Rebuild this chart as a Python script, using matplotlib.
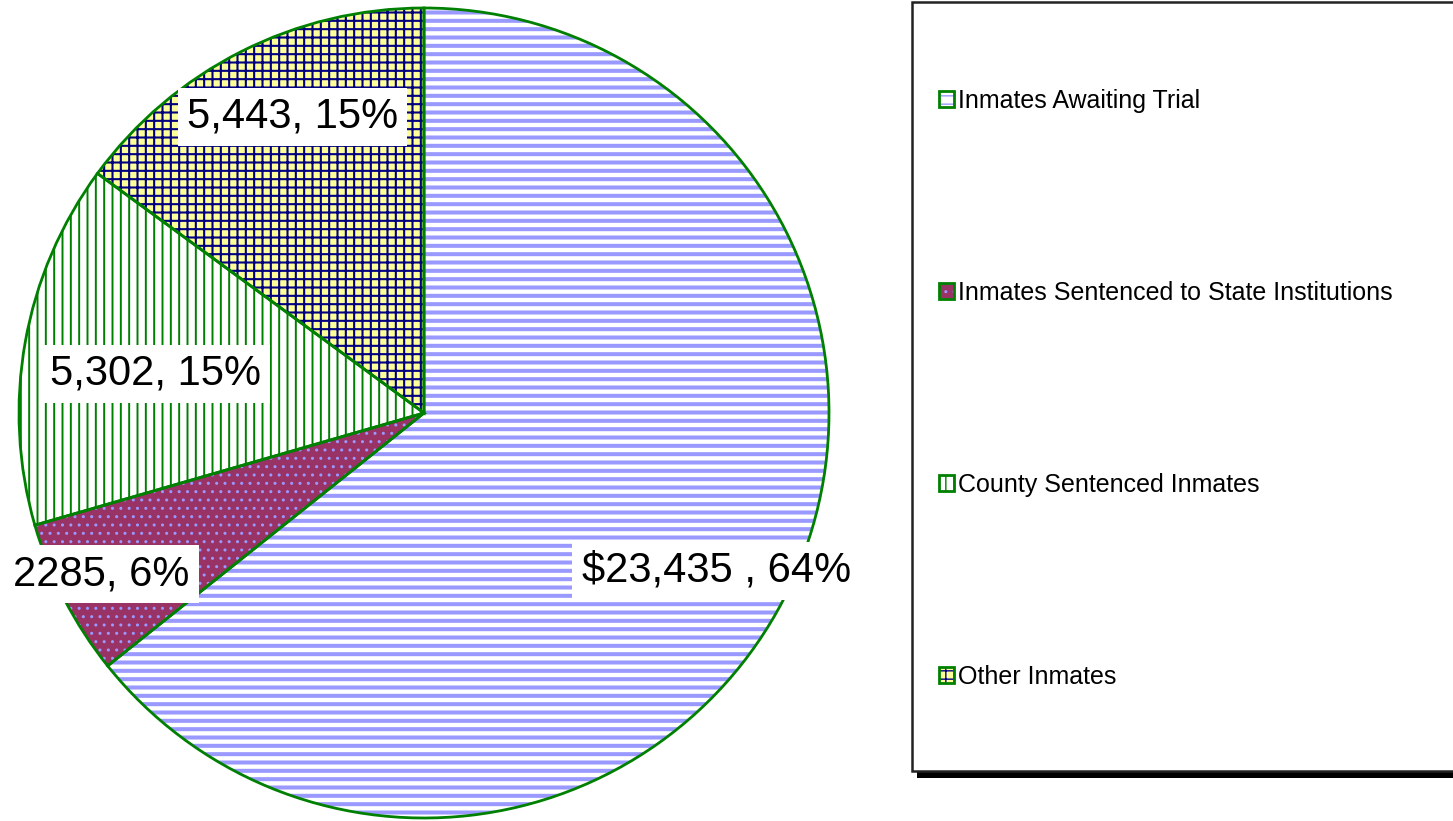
import matplotlib
matplotlib.use("Agg")
import matplotlib.pyplot as plt
from matplotlib.patches import Rectangle
from matplotlib.legend_handler import HandlerTuple
import numpy as np

plt.rcParams['font.family'] = ['Liberation Sans', 'DejaVu Sans']

categories = ["Inmates Awaiting Trial", "Inmates Sentenced to State Institutions",
              "County Sentenced Inmates", "Other Inmates"]
values = [23435, 2285, 5302, 5443]
data_labels = ["$23,435 , 64%", "2285, 6%", "5,302, 15%", "5,443, 15%"]

face_colors = ["#FFFFFF", "#993366", "#FFFFFF", "#FFFF99"]
hatch_colors = ["#9999FF", "#9999FF", "#008000", "#000080"]
hatches = ["--", "..", "||", "++"]
hatch_lws = [2.9, 1.0, 1.4, 1.5]
label_dist = [0.82, 0.89, 0.67, 0.80]
label_dang = [-2.7, -0.8, 1.8, -2.9]

W, H = 1453, 821
fig = plt.figure(figsize=(W / 100, H / 100), dpi=100)
cx, cy, r = 424, 413, 405
ax = fig.add_axes([(cx - r) / W, (H - cy - r) / H, 2 * r / W, 2 * r / H])

w1, _ = ax.pie(values, startangle=90, counterclock=False, radius=1,
               wedgeprops=dict(linewidth=0))
for w, fc, hc, h, lw in zip(w1, face_colors, hatch_colors, hatches, hatch_lws):
    w.set_facecolor(fc)
    w.set_edgecolor(hc)
    w.set_linewidth(0)
    w.set_hatch(h)
    if hasattr(w, 'set_hatch_linewidth'):
        w.set_hatch_linewidth(lw)
    else:
        w._hatch_linewidth = lw

w2, _ = ax.pie(values, startangle=90, counterclock=False, radius=1,
               wedgeprops=dict(facecolor='none', edgecolor='#008000', linewidth=2))

ax.set_xlim(-1, 1)
ax.set_ylim(-1, 1)
ax.set_aspect('equal')
ax.axis('off')

for w, lab, d, da in zip(w1, data_labels, label_dist, label_dang):
    ang = np.deg2rad((w.theta1 + w.theta2) / 2 + da)
    ax.text(d * np.cos(ang), d * np.sin(ang), lab, fontsize=30, ha='center', va='center',
            color='black', zorder=5,
            bbox=dict(boxstyle='square,pad=0.22', facecolor='white', edgecolor='none'))

# legend frame with shadow
x0, y0top, y0bot = 912, 2, 771
shadow = Rectangle(((x0 + 5) / W, (H - y0bot - 7) / H), (W + 20 - x0) / W, (y0bot - y0top) / H,
                   transform=fig.transFigure, facecolor='black', edgecolor='none', zorder=1)
frame = Rectangle((x0 / W, (H - y0bot) / H), (W + 20 - x0) / W, (y0bot - y0top) / H,
                  transform=fig.transFigure, facecolor='white', edgecolor='#222222',
                  linewidth=1.8, zorder=2)
fig.patches.extend([shadow, frame])

handles = [(a, b) for a, b in zip(w1, w2)]
leg = fig.legend(handles, categories, loc='center left',
                 bbox_to_anchor=(939 / W, (H - 389) / H),
                 frameon=False, fontsize=18, handlelength=0.58, handleheight=0.58,
                 handletextpad=0.2, labelspacing=6.72, borderpad=0, borderaxespad=0,
                 handler_map={tuple: HandlerTuple(ndivide=1, pad=0)})
leg.set_zorder(3)

fig.savefig("out.png", dpi=100)
